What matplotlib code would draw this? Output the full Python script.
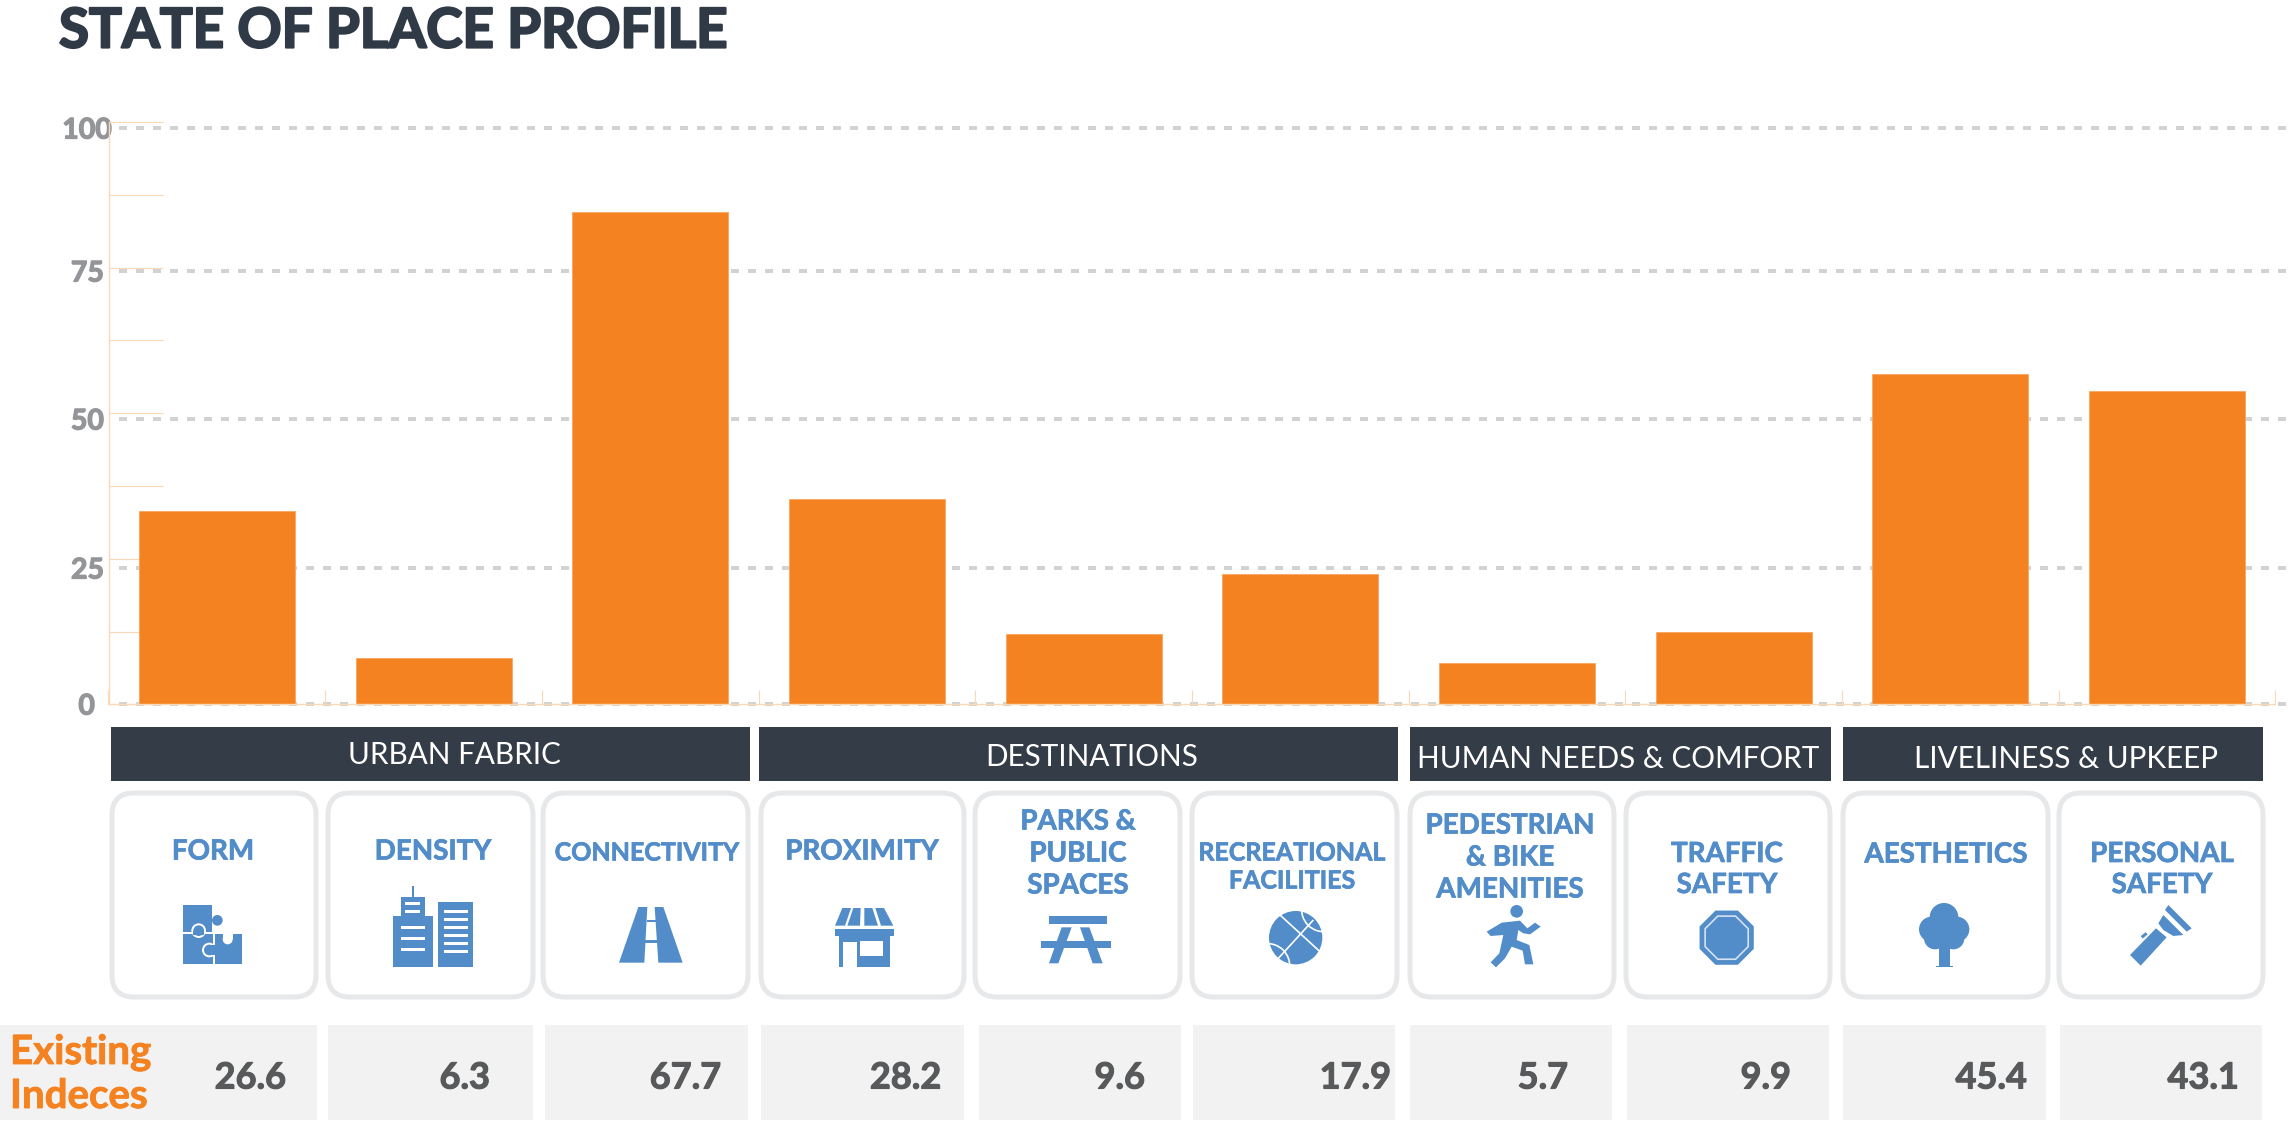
import numpy as np
import matplotlib
matplotlib.use("Agg")
import matplotlib.pyplot as plt
import matplotlib.patheffects as pe
from matplotlib.patches import Rectangle, Polygon, Circle, FancyBboxPatch, RegularPolygon, Arc

W, H = 2294, 1124
BLUE = "#528cc9"
ORANGE = "#f58220"
NAVY = "#333c47"

# data
categories = ["FORM", "DENSITY", "CONNECTIVITY", "PROXIMITY", "PARKS &\nPUBLIC\nSPACES",
              "RECREATIONAL\nFACILITIES", "PEDESTRIAN\n& BIKE\nAMENITIES", "TRAFFIC\nSAFETY",
              "AESTHETICS", "PERSONAL\nSAFETY"]
values = [26.6, 6.3, 67.7, 28.2, 9.6, 17.9, 5.7, 9.9, 45.4, 43.1]
value_labels = ["26.6", "6.3", "67.7", "28.2", "9.6", "17.9", "5.7", "9.9", "45.4", "43.1"]
groups = ["URBAN FABRIC", "DESTINATIONS", "HUMAN NEEDS & COMFORT", "LIVELINESS & UPKEEP"]
scale_labels = ["100", "75", "50", "25", "0"]

# layout in pixels of the picture
scale_y = [128, 271, 419, 568, 704]
scale_right = [112, 104, 104, 104, 95]
group_x = [(111, 750), (759, 1398), (1410, 1831), (1843, 2263)]
group_text = [(454, 753), (1092, 754), (1618, 757), (2066, 757)]
card_x = [(112, 316), (328, 533), (543, 748), (761, 964), (975, 1180), (1192, 1397),
          (1410, 1614), (1626, 1830), (1843, 2048), (2059, 2263)]
label_pos = [(213, 849, 20), (433, 849, 20), (647, 851, 18), (862, 849, 20), (1078, 851, 20),
             (1292, 865, 18), (1510, 855, 20), (1727, 867, 20), (1946, 852, 20), (2162, 867, 20)]
label_gap = [32, 32, 32, 32, 32, 28, 32, 31, 32, 31]
box_x = [(0, 317), (328, 533), (545, 748), (761, 964), (979, 1181), (1193, 1395),
         (1410, 1612), (1627, 1829), (1843, 2046), (2060, 2262)]
value_right = [286, 490, 721, 941, 1145, 1391, 1568, 1791, 2027, 2239]

plt.rcParams["font.family"] = ["Lato", "DejaVu Sans"]
fig = plt.figure(figsize=(W / 100, H / 100), dpi=100, facecolor="white")


def heavy(color, lw):
    return [pe.withStroke(linewidth=lw, foreground=color)]


# pixel overlay for everything that is not a bar
bg = fig.add_axes([0, 0, 1, 1], zorder=0)
bg.set_xlim(0, W)
bg.set_ylim(H, 0)
bg.axis("off")

for yy, lab, xr in zip(scale_y, scale_labels, scale_right):
    bg.plot([119, 2290], [yy, yy], color="#d1d2d4", lw=2.88, ls=(0, (2.0, 2.25)), dash_capstyle="butt", zorder=1)
    bg.text(xr, yy, lab, ha="right", va="center_baseline", fontsize=20.5, fontweight="bold", color="#939598",
            path_effects=heavy("#939598", 0.9))

bg.text(59, 27, "STATE OF PLACE PROFILE", ha="left", va="center_baseline", fontsize=39.4, fontweight="bold",
        color="#2f3a46", path_effects=heavy("#2f3a46", 1.6))

for (x0, x1), name, (tx, ty) in zip(group_x, groups, group_text):
    bg.add_patch(Rectangle((x0, 727), x1 - x0, 54, fc=NAVY, ec="none"))
    bg.text(tx, ty, name, ha="center", va="center_baseline", fontsize=21.3, color="white")

for (x0, x1) in card_x:
    bg.add_patch(FancyBboxPatch((x0 + 22, 815), x1 - x0 - 44, 160, boxstyle="round,pad=22,rounding_size=22",
                                fc="white", ec="#e7e8ea", lw=3.6))

for name, (cx, cy, fs), gap in zip(categories, label_pos, label_gap):
    lines = name.split("\n")
    for i, line in enumerate(lines):
        y = cy + (i - (len(lines) - 1) / 2) * gap
        bg.text(cx, y, line, ha="center", va="center_baseline", fontsize=fs, fontweight="bold", color=BLUE,
                path_effects=heavy(BLUE, 0.5))

for (x0, x1), lab, xr in zip(box_x, value_labels, value_right):
    bg.add_patch(Rectangle((x0, 1025), x1 - x0, 95, fc="#f2f2f2", ec="none"))
    bg.text(xr, 1075, lab, ha="right", va="center_baseline", fontsize=26, fontweight="bold", color="#58595b",
            path_effects=heavy("#58595b", 0.8))

bg.text(10, 1049, "Existing", ha="left", va="center_baseline", fontsize=29, fontweight="bold", color=ORANGE,
        path_effects=heavy(ORANGE, 0.6))
bg.text(10, 1093, "Indeces", ha="left", va="center_baseline", fontsize=29, fontweight="bold", color=ORANGE,
        path_effects=heavy(ORANGE, 0.6))


# icons, sketched in 3x crop units around an origin
def poly(o, pts, color=BLUE):
    bg.add_patch(Polygon([(o[0] + p[0] / 3, o[1] + p[1] / 3) for p in pts], closed=True, fc=color, ec="none", zorder=3))


def box(o, x0, y0, x1, y1, color=BLUE):
    poly(o, [(x0, y0), (x1, y0), (x1, y1), (x0, y1)], color)


def disc(o, x, y, r, color=BLUE, ec="none", lw=0):
    bg.add_patch(Circle((o[0] + x / 3, o[1] + y / 3), r / 3, fc=color, ec=ec, lw=lw, zorder=3))


def stroke(o, x0, y0, x1, y1, lw=1.2, color="white"):
    bg.plot([o[0] + x0 / 3, o[0] + x1 / 3], [o[1] + y0 / 3, o[1] + y1 / 3], color=color, lw=lw, zorder=4,
            solid_capstyle="butt")


# puzzle
o = (170, 880)
box(o, 39, 75, 127, 157)
disc(o, 142, 121, 16)
box(o, 39, 162, 130, 252)
disc(o, 86, 152, 22, "white")
disc(o, 86, 152, 16)
box(o, 70, 152, 102, 165)
box(o, 134, 162, 216, 252)
disc(o, 118, 210, 22, "white")
disc(o, 118, 210, 16)
box(o, 118, 194, 140, 226)
disc(o, 173, 178, 15, "white")
box(o, 158, 160, 188, 178, "white")

# buildings
box(o, 669, 108, 789, 261)
box(o, 694, 52, 765, 108)
box(o, 726, 18, 732, 52)
box(o, 804, 66, 909, 261)
for yy in [70, 94]:
    box(o, 705, yy - 4, 750, yy + 4, "white")
for yy in [142, 175, 208]:
    box(o, 693, yy - 4, 765, yy + 4, "white")
for yy in [94, 118, 142, 166, 191, 215]:
    box(o, 822, yy - 4, 894, yy + 4, "white")

# road
o = (600, 880)
poly(o, [(115, 81), (142, 81), (133, 248), (57, 248)])
poly(o, [(164, 81), (190, 81), (248, 248), (175, 248)])
box(o, 140, 120, 167, 127)
box(o, 135, 180, 172, 188)

# shop
for pts in [[(727, 84), (753, 84), (735, 137), (705, 137)], [(760, 84), (782, 84), (780, 137), (742, 137)],
            [(793, 84), (817, 84), (834, 137), (793, 137)], [(826, 84), (852, 84), (880, 137), (843, 137)]]:
    poly(o, pts)
box(o, 705, 147, 881, 168)
box(o, 717, 168, 869, 260)
box(o, 730, 187, 772, 260, "white")
box(o, 780, 182, 848, 227, "white")

# picnic table
o = (1030, 880)
box(o, 58, 108, 231, 132)
box(o, 33, 182, 243, 204)
poly(o, [(95, 142), (125, 142), (85, 250), (57, 250)])
poly(o, [(150, 142), (178, 142), (218, 250), (188, 250)])

# basketball
disc(o, 797, 173, 80)
stroke(o, 750, 105, 870, 215)
stroke(o, 745, 235, 850, 120)
cx, cy = o[0] + 797 / 3, o[1] + 173 / 3
bg.add_patch(Arc((cx + 28, cy - 28), 44, 44, theta1=80, theta2=190, ec="white", lw=1.2, zorder=4))
bg.add_patch(Arc((cx - 28, cy + 28), 44, 44, theta1=260, theta2=370, ec="white", lw=1.2, zorder=4))

# runner
o = (1470, 880)
disc(o, 140, 94, 19)
poly(o, [(50, 155), (95, 128), (150, 122), (172, 145), (195, 128), (212, 140), (180, 163), (160, 160), (145, 150),
         (140, 180), (178, 195), (190, 253), (165, 253), (158, 212), (125, 200), (105, 235), (78, 262), (62, 247),
         (88, 220), (100, 165), (62, 168)])

# octagon
bg.add_patch(RegularPolygon((o[0] + 770 / 3, o[1] + 173 / 3), 8, radius=88 / 3, orientation=np.pi / 8, fc=BLUE, ec="none", zorder=3))
bg.add_patch(RegularPolygon((o[0] + 770 / 3, o[1] + 173 / 3), 8, radius=70 / 3, orientation=np.pi / 8, fc=BLUE, ec="#d5e2f2", lw=1.2, zorder=4))

# tree
o = (1900, 880)
for x, y, r in [(132, 112, 43), (95, 148, 38), (170, 148, 38), (105, 175, 33), (160, 175, 33)]:
    disc(o, x, y, r)
box(o, 117, 190, 150, 258)
box(o, 107, 258, 160, 261)

# flashlight
poly(o, [(690, 225), (768, 145), (800, 172), (722, 257)])
poly(o, [(775, 130), (790, 105), (850, 165), (820, 168), (790, 150)])
poly(o, [(805, 75), (875, 145), (860, 155), (795, 90)])
stroke(o, 725, 172, 740, 160, lw=2.2, color=BLUE)

# bars on the orange axis, 0-80
ax = fig.add_axes([108.5 / W, 1 - 704.3 / H, (2275.2 - 108.5) / W, (704.3 - 122) / H], zorder=1)
ax.patch.set_alpha(0)
xs = np.arange(len(values))
ax.bar(xs, values, width=0.72, color=ORANGE, edgecolor="#f9a65e", linewidth=0.6)
ax.set_xlim(-0.5, 9.5)
ax.set_ylim(0, 80)
ax.set_axisbelow(True)
ax.set_yticks(np.arange(0, 81, 10))
ax.set_xticks(np.arange(-0.5, 10, 1))
ax.tick_params(axis="y", direction="in", length=39, width=0.8, color="#fcd9b6", labelleft=False)
ax.tick_params(axis="x", direction="in", length=10, width=0.8, color="#fcd9b6", labelbottom=False)
for side in ["top", "right"]:
    ax.spines[side].set_visible(False)
for side in ["left", "bottom"]:
    ax.spines[side].set_color("#fcd9b6")
    ax.spines[side].set_linewidth(1.0)

fig.savefig("out.png", dpi=100)
